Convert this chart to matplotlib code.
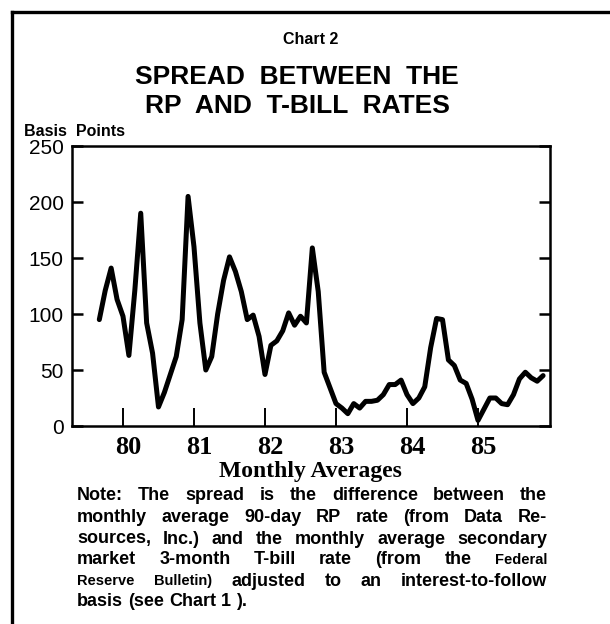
import numpy as np
import matplotlib.pyplot as plt
from matplotlib.lines import Line2D
from matplotlib.transforms import ScaledTranslation

# monthly spread, Sep 1979 .. Dec 1985 (basis points)
start_month = -4  # months relative to Jan 1980
spread = [95, 121, 141, 113,
          98, 63, 121, 190, 92, 65, 17, 30, 46, 62, 95, 205,
          160, 92, 50, 62, 100, 130, 151, 138, 120, 95, 99, 80,
          46, 72, 76, 85, 101, 90, 98, 92, 159, 120, 48, 34,
          20, 16, 11, 20, 16, 22, 22, 23, 28, 37, 37, 41,
          28, 20, 25, 35, 70, 96, 95, 59, 54, 41, 38, 24,
          5, 15, 25, 25, 20, 19, 28, 42, 48, 43, 40, 45]
years = [1980, 1981, 1982, 1983, 1984, 1985]
year_labels = ['80', '81', '82', '83', '84', '85']
y_ticks = [0, 50, 100, 150, 200, 250]

note_lines = [
    [("Note: The spread is the difference between the", 13)],
    [("monthly average 90-day RP rate (from Data Re-", 13)],
    [("sources, Inc.) and the monthly average secondary", 13)],
    [("market 3-month T-bill rate (from the", 13), ("Federal", 10.5)],
    [("Reserve Bulletin)", 10.5), ("adjusted to an interest-to-follow", 13)],
    [("basis (see Chart 1 ).", 13)],
]

W, H = 610, 624
fig = plt.figure(figsize=(W / 100, H / 100), dpi=100)
sans = ['Liberation Sans', 'DejaVu Sans']
serif = ['Liberation Serif', 'DejaVu Serif']

ax = fig.add_axes([72 / W, 1 - 426 / H, 478 / W, 280 / H])
x = 1980 + (np.arange(len(spread)) + start_month) / 12
ax.plot(x, spread, color='black', lw=3.6, solid_joinstyle='round', solid_capstyle='round')
ax.set_xlim(1979.282, 1986.014)
ax.set_ylim(0, 250)

for s in ax.spines.values():
    s.set_linewidth(1.8)
ax.set_yticks(y_ticks)
ax.set_yticklabels([str(v) for v in y_ticks], family=sans, fontsize=15)
ax.tick_params(axis='y', direction='in', length=8, width=1.8, pad=6, right=True)
ax.set_xticks(years)
ax.set_xticklabels(year_labels, family=serif, fontsize=19, fontweight='bold')
ax.tick_params(axis='x', direction='in', length=13, width=1.4, pad=7)
off = ScaledTranslation(5 / 100, 0, fig.dpi_scale_trans)
for lab in ax.get_xticklabels():
    lab.set_transform(lab.get_transform() + off)

# page frame
fig.add_artist(Line2D([12 / W, 12 / W], [0, 1 - 12 / H], color='black', lw=2.4))
fig.add_artist(Line2D([12 / W, 1], [1 - 12 / H, 1 - 12 / H], color='black', lw=2.4))

fig.text(311 / W, 1 - 39 / H, "Chart 2", ha='center', va='center', family=sans,
         fontsize=11.5, fontweight='bold')
fig.text(297 / W, 1 - 77 / H, "SPREAD  BETWEEN  THE", ha='center', va='center', family=sans,
         fontsize=19, fontweight='bold')
fig.text(297 / W, 1 - 106 / H, "RP  AND  T-BILL  RATES", ha='center', va='center', family=sans,
         fontsize=19, fontweight='bold')
fig.text(24 / W, 1 - 131 / H, "Basis  Points", ha='left', va='center', family=sans,
         fontsize=11.5, fontweight='bold')
fig.text(310 / W, 1 - 471 / H, "Monthly Averages", ha='center', va='center', family=serif,
         fontsize=17, fontweight='bold')

# justified note
renderer = fig.canvas.get_renderer()
x0, x1 = 77, 547
line_y = [496, 517.5, 539, 560, 581, 602]
for i, (parts, yy) in enumerate(zip(note_lines, line_y)):
    words = []
    for txt, size in parts:
        for w in txt.split(' '):
            words.append((w, size))
    texts = [fig.text(0, 1 - yy / H, w, ha='left', va='center', family=sans,
                      fontsize=sz, fontweight='bold') for w, sz in words]
    widths = [t.get_window_extent(renderer).width for t in texts]
    if i == len(note_lines) - 1:
        gap = 5
    else:
        gap = (x1 - x0 - sum(widths)) / (len(texts) - 1)
    xx = x0
    for t, wd in zip(texts, widths):
        t.set_x(xx / W)
        xx += wd + gap

fig.savefig('out.png', dpi=100)
